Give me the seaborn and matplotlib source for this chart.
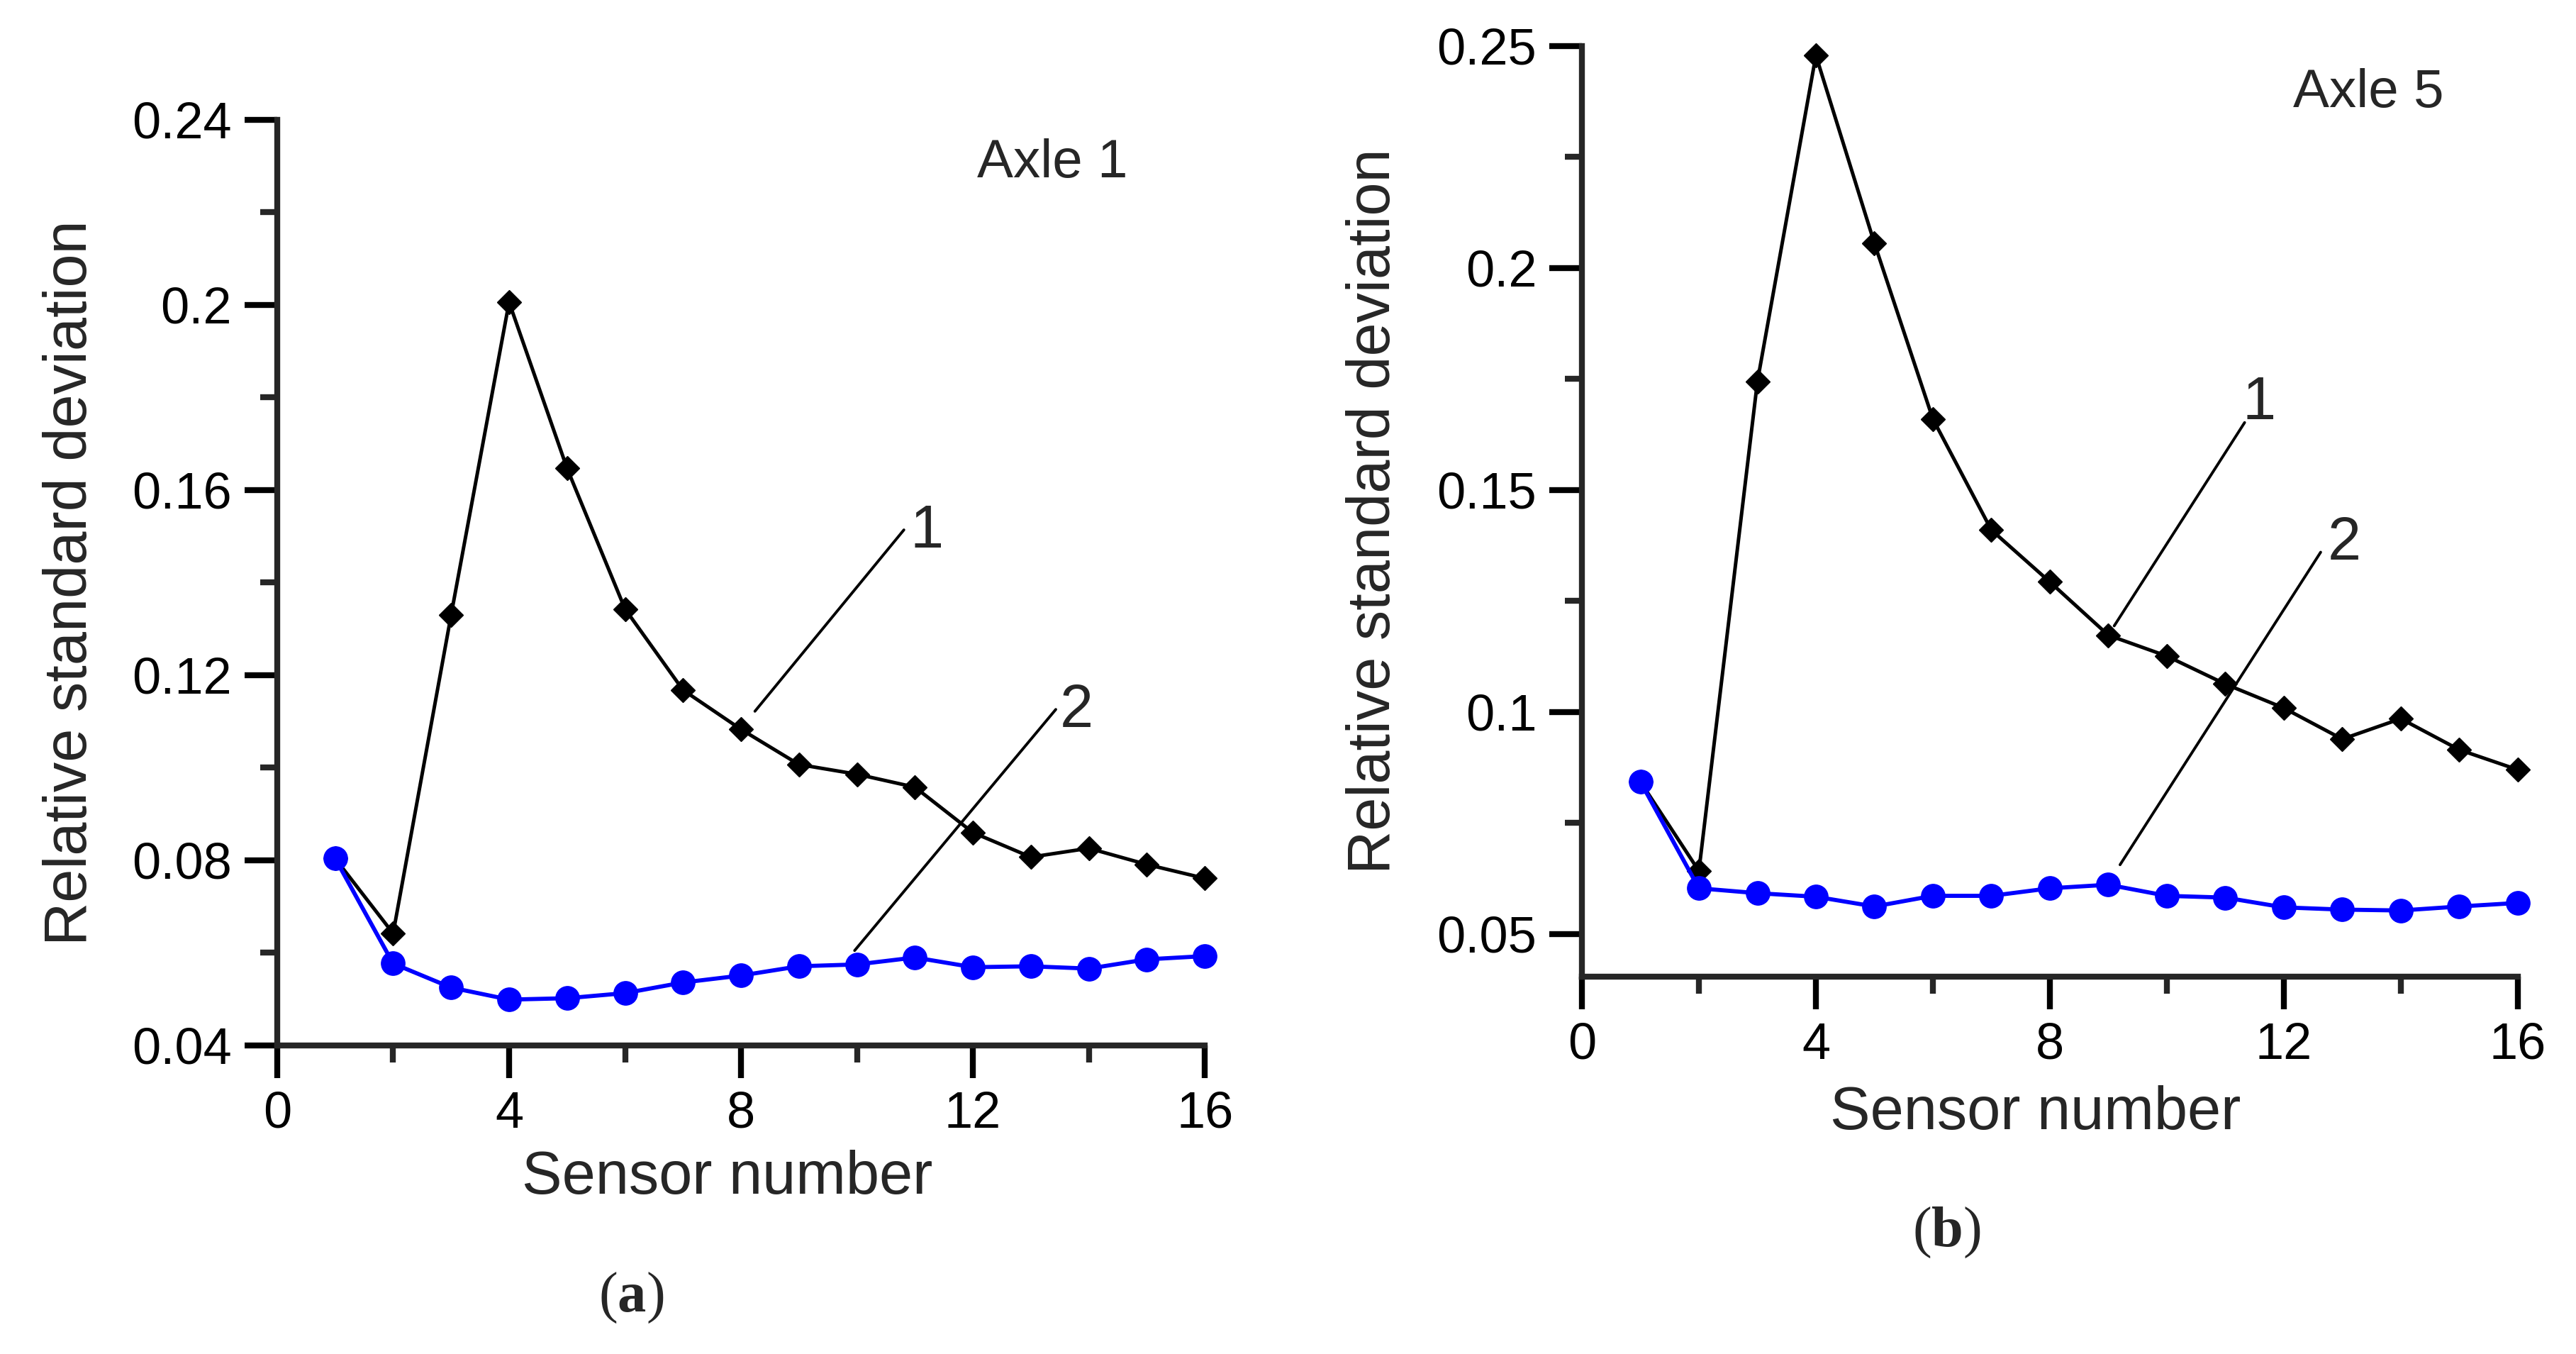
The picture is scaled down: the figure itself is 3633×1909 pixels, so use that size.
import numpy as np
import matplotlib
matplotlib.use("Agg")
import matplotlib.pyplot as plt
import seaborn as sns
from matplotlib.ticker import MultipleLocator, FormatStrFormatter

# sensor positions along the axle
sensors = list(range(1, 17))

# Axle 1 (panel a)
axle1_curve1 = [0.0804, 0.0642, 0.1330, 0.2006, 0.1647, 0.1343, 0.1168, 0.1083,
                0.1007, 0.0986, 0.0958, 0.0860, 0.0807, 0.0826, 0.0791, 0.0761]
axle1_curve2 = [0.0804, 0.0577, 0.0525, 0.0499, 0.0502, 0.0513, 0.0536, 0.0551,
                0.0571, 0.0575, 0.0590, 0.0569, 0.0571, 0.0566, 0.0586, 0.0593]

# Axle 5 (panel b)
axle5_curve1 = [0.0843, 0.0642, 0.1744, 0.2479, 0.2056, 0.1660, 0.1410, 0.1293,
                0.1173, 0.1126, 0.1063, 0.1009, 0.0939, 0.0985, 0.0915, 0.0870]
axle5_curve2 = [0.0843, 0.0603, 0.0592, 0.0584, 0.0562, 0.0586, 0.0586, 0.0603,
                0.0611, 0.0586, 0.0582, 0.0560, 0.0555, 0.0553, 0.0562, 0.0570]

x_label = "Sensor number"
y_label = "Relative standard deviation"

sns.set_style("ticks")
plt.rcParams["font.family"] = ["Liberation Sans", "DejaVu Sans"]
plt.rcParams["mathtext.fontset"] = "custom"
plt.rcParams["mathtext.rm"] = "Liberation Serif"
plt.rcParams["mathtext.bf"] = "Liberation Serif:bold"

SPINE_W = 6
TICK_FS = 52
LABEL_FS = 61


def draw_panel(ax, curve1, curve2, ylim, ymajor, yminor, title, notes, xlab_y):
    sns.lineplot(x=sensors, y=curve1, ax=ax, color="black", linewidth=3.6,
                 marker="D", markersize=17, markeredgecolor="black",
                 markeredgewidth=1, clip_on=False, zorder=3)
    sns.lineplot(x=sensors, y=curve2, ax=ax, color="#0000FF", linewidth=4.2,
                 marker="o", markersize=24, markeredgecolor="#0000FF",
                 markeredgewidth=1, clip_on=False, zorder=4)

    ax.set_xlim(0, 16)
    ax.set_ylim(*ylim)
    ax.xaxis.set_major_locator(MultipleLocator(4))
    ax.xaxis.set_minor_locator(MultipleLocator(2))
    ax.yaxis.set_major_locator(MultipleLocator(ymajor))
    ax.yaxis.set_minor_locator(MultipleLocator(yminor))
    ax.yaxis.set_major_formatter(FormatStrFormatter("%g"))

    sns.despine(ax=ax)
    for side in ("left", "bottom"):
        ax.spines[side].set_linewidth(SPINE_W)
    ax.tick_params(which="major", direction="out", length=33, width=SPINE_W,
                   labelsize=TICK_FS, pad=13, colors="black")
    ax.tick_params(which="minor", direction="out", length=17, width=SPINE_W)

    ax.set_xlabel(x_label, fontsize=LABEL_FS)
    ax.set_ylabel(y_label, fontsize=LABEL_FS)
    ax.xaxis.set_label_coords(0.485, xlab_y)
    ax.yaxis.set_label_coords(-0.192, 0.5)

    ax.text(title[1], title[2], title[0], fontsize=55, ha="center", va="baseline")
    for label, tx, ty, (x0, y0), (x1, y1) in notes:
        ax.plot([x0, x1], [y0, y1], color="black", linewidth=2.8)
        ax.text(tx, ty, label, fontsize=61, ha="center", va="baseline")


fig = plt.figure(figsize=(36.33, 19.09), dpi=100)
ax_a = fig.add_axes([0.1076, 0.2279, 0.3601, 0.6836])
ax_b = fig.add_axes([0.6141, 0.2787, 0.3633, 0.6873])

draw_panel(ax_a, axle1_curve1, axle1_curve2, (0.04, 0.24), 0.04, 0.02,
           ("Axle 1", 13.37, 0.2276),
           [("1", 11.2, 0.1476, (10.81, 0.1514), (8.24, 0.1122)),
            ("2", 13.79, 0.1088, (13.43, 0.1126), (9.96, 0.0605))],
           -0.1126)
draw_panel(ax_b, axle5_curve1, axle5_curve2, (0.0404, 0.25), 0.05, 0.025,
           ("Axle 5", 13.45, 0.2362),
           [("1", 11.58, 0.1660, (11.33, 0.1652), (9.10, 0.1194)),
            ("2", 13.04, 0.1344, (12.63, 0.1360), (9.20, 0.0656))],
           -0.1166)

fig.text(0.245, 0.0414, r"($\mathbf{a}$)", fontsize=58, ha="center", va="center",
         family=["Liberation Serif", "DejaVu Serif"])
fig.text(0.7556, 0.0896, r"($\mathbf{b}$)", fontsize=58, ha="center", va="center",
         family=["Liberation Serif", "DejaVu Serif"])

fig.savefig("out.png", dpi=100, facecolor="white")
